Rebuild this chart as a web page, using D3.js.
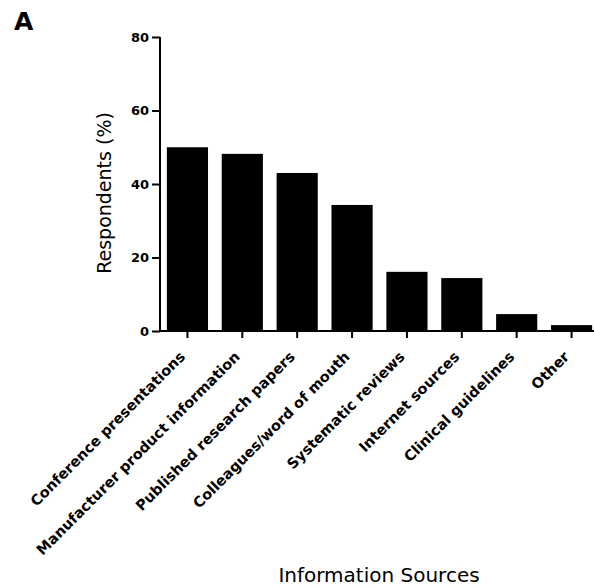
<!DOCTYPE html>
<html><head><meta charset="utf-8">
<script src="https://cdn.jsdelivr.net/npm/d3@7"></script>
<style>body{margin:0;background:#fff;} svg{display:block;font-family:"DejaVu Sans",sans-serif;}</style>
</head><body>
<script>
const categories = ["Conference presentations","Manufacturer product information","Published research papers","Colleagues/word of mouth","Systematic reviews","Internet sources","Clinical guidelines","Other"];
const values = [50, 48.2, 43, 34.3, 16.1, 14.4, 4.6, 1.6];
const yTicks = [0, 20, 40, 60, 80];

const W = 594, H = 588;
const FONT = "DejaVu Sans, sans-serif";
const svg = d3.select("body").append("svg").attr("width", W).attr("height", H);

const x = d3.scaleBand().domain(categories).range([160, 599]).paddingInner(0.25).paddingOuter(0.125);
const y = d3.scaleLinear().domain([0, 80]).range([331, 37]);

svg.selectAll("rect.bar").data(categories).enter().append("rect")
  .attr("x", d => x(d)).attr("width", x.bandwidth())
  .attr("y", (d,i) => y(values[i])).attr("height", (d,i) => y(0) - y(values[i]))
  .attr("fill", "#000");

// y axis
const ya = svg.append("g").attr("transform", "translate(160,0)")
  .call(d3.axisLeft(y).tickValues(yTicks).tickSize(8).tickPadding(3));
ya.select(".domain").attr("stroke-width", 2).attr("d", `M0,${y(0)}V${y(80)}`);
ya.selectAll(".tick line").attr("stroke-width", 2);
ya.selectAll("text").attr("font-size", 13).attr("font-weight", "bold").attr("font-family", FONT);

// x axis
const xa = svg.append("g").attr("transform", `translate(0,${y(0)})`)
  .call(d3.axisBottom(x).tickSize(7).tickSizeOuter(0));
xa.select(".domain").attr("stroke-width", 2).attr("d", `M159,0H594`);
xa.selectAll(".tick line").attr("stroke-width", 2);
xa.selectAll("text")
  .attr("font-size", 14.5).attr("font-weight", "bold").attr("font-family", FONT)
  .attr("text-anchor", "end")
  .attr("transform", "translate(-5,23) rotate(-45)")
  .attr("dy", "0.35em").attr("y", 0).attr("x", 0);

svg.append("text").attr("transform", "translate(111,193) rotate(-90)")
  .attr("text-anchor", "middle").attr("font-size", 19).text("Respondents (%)");

svg.append("text").attr("x", 379).attr("y", 582)
  .attr("text-anchor", "middle").attr("font-size", 20).text("Information Sources");

svg.append("text").attr("x", 14).attr("y", 30)
  .attr("font-size", 25).attr("font-weight", "bold").text("A");
</script>
</body></html>
